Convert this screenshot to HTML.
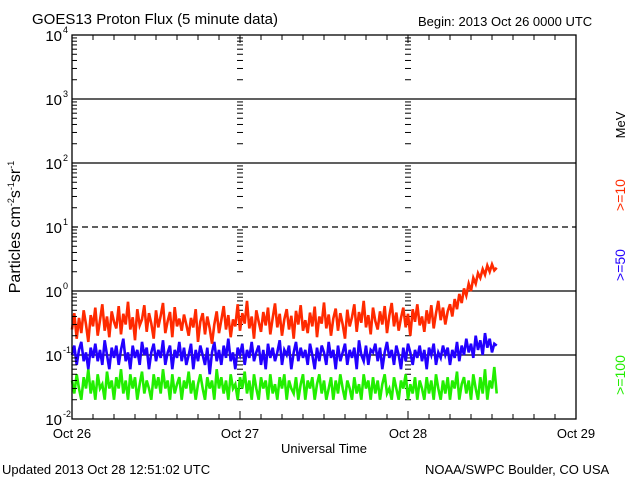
<!DOCTYPE html>
<html><head><meta charset="utf-8"><style>
body{margin:0;background:#fff}
svg{display:block;font-family:"Liberation Sans",sans-serif}
</style></head><body>
<svg id="chart" width="640" height="480" viewBox="0 0 640 480">
<rect width="640" height="480" fill="#fff"/>
<text x="32" y="24" font-size="15">GOES13 Proton Flux (5 minute data)</text>
<text x="418" y="26" font-size="13">Begin: 2013 Oct 26 0000 UTC</text>
<text x="2" y="474" font-size="13">Updated 2013 Oct 28 12:51:02 UTC</text>
<text x="425" y="474" font-size="13">NOAA/SWPC Boulder, CO USA</text>
<text x="324" y="453" font-size="13" text-anchor="middle">Universal Time</text>
<text transform="translate(20,227) rotate(-90)" font-size="16" text-anchor="middle">Particles cm<tspan font-size="9" dy="-6">-2</tspan><tspan dy="6">s</tspan><tspan font-size="9" dy="-6">-1</tspan><tspan dy="6">sr</tspan><tspan font-size="9" dy="-6">-1</tspan></text>
<text transform="translate(625,125) rotate(-90)" font-size="13" text-anchor="middle">MeV</text>
<text transform="translate(625,195) rotate(-90)" font-size="14" fill="#ff2a00" text-anchor="middle">&gt;=10</text>
<text transform="translate(625,265) rotate(-90)" font-size="14" fill="#2200ff" text-anchor="middle">&gt;=50</text>
<text transform="translate(625,375) rotate(-90)" font-size="14" fill="#22ee00" text-anchor="middle">&gt;=100</text>
<g id="grid"></g><g id="series"></g><g id="axes"></g>
</svg>
<script>
const dayLabels=["Oct 26","Oct 27","Oct 28","Oct 29"];
const decadeExps=[-2,-1,0,1,2,3,4];
const stepHours=1/3;
const red=[.25,.45,.18,.38,.22,.50,.30,.16,.42,.28,
.55,.20,.35,.62,.24,.40,.19,.48,.33,.26,
.58,.21,.44,.30,.68,.25,.39,.17,.52,.29,
.36,.60,.23,.45,.31,.18,.50,.27,.41,.65,
.22,.34,.47,.19,.56,.28,.37,.24,.43,.30,
.20,.38,.27,.52,.16,.33,.45,.21,.40,.26,
.15,.30,.48,.22,.35,.58,.25,.42,.19,.36,
.28,.62,.24,.45,.31,.70,.26,.40,.18,.50,
.33,.23,.47,.29,.55,.21,.38,.64,.27,.44,
.20,.36,.52,.25,.41,.18,.49,.30,.60,.24,
.35,.22,.46,.28,.57,.19,.40,.31,.66,.26,
.43,.20,.37,.53,.24,.45,.30,.18,.51,.28,
.39,.62,.23,.47,.32,.70,.27,.42,.21,.55,
.34,.25,.48,.30,.58,.22,.41,.65,.28,.46,
.24,.38,.55,.27,.44,.20,.52,.33,.62,.29,
.40,.23,.50,.31,.60,.26,.45,.70,.35,.55,
.30,.48,.62,.40,.75,.52,.90,.65,1.1,.85,
1.3,1.0,1.6,1.3,1.9,1.6,2.2,1.8,2.5,2.0,
2.6,2.1,2.3];
const blue=[.10,.14,.07,.12,.16,.08,.11,.06,.13,.09,
.15,.08,.12,.07,.17,.10,.06,.13,.09,.14,
.07,.12,.18,.08,.11,.06,.14,.09,.12,.07,
.16,.10,.13,.06,.11,.15,.08,.12,.09,.17,
.07,.11,.14,.06,.12,.09,.16,.08,.13,.07,
.10,.15,.06,.12,.08,.14,.10,.07,.13,.05,
.11,.16,.08,.12,.07,.14,.09,.18,.08,.11,
.06,.13,.10,.15,.07,.12,.09,.16,.08,.11,
.14,.07,.12,.06,.15,.09,.13,.08,.11,.17,
.07,.12,.10,.14,.06,.11,.16,.08,.13,.09,
.12,.07,.15,.10,.06,.13,.08,.14,.11,.07,
.16,.09,.12,.06,.14,.08,.11,.15,.07,.12,
.09,.13,.06,.17,.10,.08,.14,.07,.12,.11,
.15,.08,.13,.06,.11,.16,.09,.12,.07,.14,
.10,.06,.13,.08,.15,.11,.07,.12,.09,.14,
.08,.12,.06,.13,.10,.15,.07,.11,.09,.14,
.10,.13,.07,.12,.09,.16,.08,.14,.10,.18,
.11,.15,.09,.20,.12,.17,.10,.22,.13,.18,
.11,.15,.14];
const green=[.04,.025,.05,.03,.02,.045,.03,.06,.025,.04,
.02,.05,.03,.035,.02,.055,.03,.04,.02,.045,
.03,.06,.025,.04,.02,.05,.03,.045,.02,.035,
.055,.025,.04,.03,.02,.05,.03,.045,.025,.06,
.03,.04,.02,.05,.025,.035,.045,.02,.04,.03,
.055,.025,.04,.02,.035,.05,.03,.02,.045,.03,
.04,.02,.06,.03,.045,.025,.04,.02,.05,.03,
.035,.02,.045,.03,.055,.025,.04,.02,.05,.03,
.02,.045,.03,.04,.02,.05,.025,.035,.02,.045,
.03,.05,.02,.04,.03,.025,.045,.02,.035,.05,
.02,.04,.03,.045,.02,.035,.05,.025,.04,.02,
.03,.045,.02,.04,.025,.05,.03,.02,.04,.03,
.02,.045,.025,.035,.02,.05,.03,.04,.02,.045,
.025,.04,.02,.035,.05,.025,.03,.02,.045,.03,
.02,.04,.03,.05,.02,.035,.025,.045,.02,.04,
.03,.02,.045,.025,.04,.02,.05,.03,.02,.04,
.025,.045,.02,.04,.03,.055,.02,.035,.045,.025,
.04,.02,.05,.03,.02,.045,.025,.06,.02,.04,
.03,.065,.025];
const L=72,R=576,T=35,B=419;
const NS="http://www.w3.org/2000/svg";
function xs(h){return L+(h/72)*(R-L);}
function ys(v){return B-(Math.log10(v)+2)/6*(B-T);}
function mk(tag,attrs,parent){const e=document.createElementNS(NS,tag);for(const k in attrs)e.setAttribute(k,attrs[k]);parent.appendChild(e);return e;}
const grid=document.getElementById('grid'),axes=document.getElementById('axes'),ser=document.getElementById('series');
decadeExps.forEach(e=>{
  if(e===-2||e===4)return;
  const y=ys(Math.pow(10,e));
  const ln=mk('line',{x1:L,x2:R,y1:y,y2:y,stroke:'#000','stroke-width':1.3,'stroke-dasharray':e===1?'6,4':'none'},grid);
  
  
});
[0,24,48].forEach(h=>{
  const x=xs(h);
  for(let e=-2;e<4;e++)for(let m=2;m<=9;m++){
    const y=ys(m*Math.pow(10,e));
    if(h===0){mk('line',{x1:x,x2:x+5,y1:y,y2:y,stroke:'#000','stroke-width':1},axes);}
    else{mk('line',{x1:x-3,x2:x+3,y1:y,y2:y,stroke:'#000','stroke-width':1},grid);}
  }
});
function draw(arr,color,name){
  const pts=arr.map((v,i)=>xs(i*stepHours).toFixed(1)+','+ys(v).toFixed(1)).join(' ');
  const p=mk('polyline',{points:pts,fill:'none',stroke:color,'stroke-width':2.6,'stroke-linejoin':'miter'},ser);
  
  
}
draw(green,'#22ee00','series-ge100');
draw(blue,'#2200ff','series-ge50');
draw(red,'#ff2a00','series-ge10');
const fr=mk('rect',{x:L,y:T,width:R-L,height:B-T,fill:'none',stroke:'#000','stroke-width':1.3},axes);


for(let h=0;h<=72;h+=3){
  const x=xs(h);const len=(h%24===0)?8:5;
  mk('line',{x1:x,x2:x,y1:B,y2:B-len,stroke:'#000','stroke-width':1},axes);
  mk('line',{x1:x,x2:x,y1:T,y2:T+len,stroke:'#000','stroke-width':1},axes);
}
dayLabels.forEach((d,i)=>{
  const t=mk('text',{x:xs(i*24),y:438,'font-size':13,'text-anchor':'middle'},axes);
  t.textContent=d;
  
  
});
decadeExps.forEach(e=>{
  const y=ys(Math.pow(10,e));
  const t=mk('text',{x:62,y:y+6,'font-size':15,'text-anchor':'end'},axes);
  t.textContent='10';
  
  
  const s=mk('text',{x:63,y:y-2,'font-size':9},axes);
  s.textContent=String(e);
  
  
});
</script>
</body></html>
